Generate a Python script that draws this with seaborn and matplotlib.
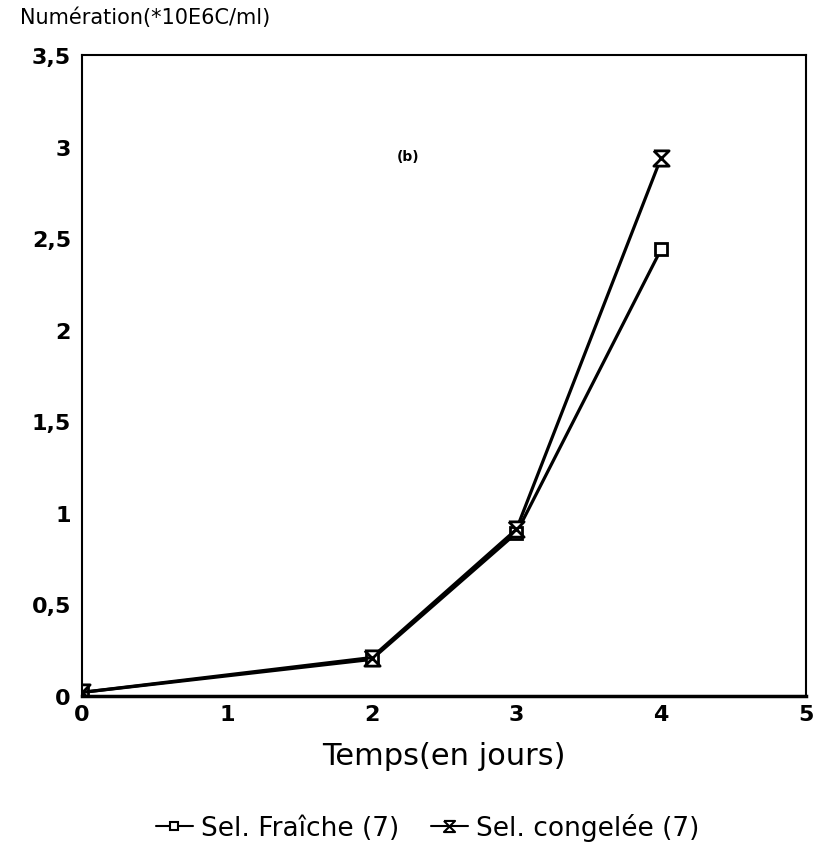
import numpy as np
import pandas as pd
import matplotlib
matplotlib.use('Agg')
import matplotlib.pyplot as plt
from matplotlib.lines import Line2D
import seaborn as sns

# values
days = [0, 2, 3, 4]
fraiche = [0.02, 0.20, 0.89, 2.44]
congelee = [0.02, 0.21, 0.91, 2.94]
series_names = ['Sel. Fraîche (7)', 'Sel. congelée (7)']
x_ticks = [0, 1, 2, 3, 4, 5]
y_ticks = [0, 0.5, 1, 1.5, 2, 2.5, 3, 3.5]
y_ticklabels = ['0', '0,5', '1', '1,5', '2', '2,5', '3', '3,5']

df = pd.DataFrame({
    'jour': days * 2,
    'num': fraiche + congelee,
    'serie': [series_names[0]] * len(days) + [series_names[1]] * len(days),
})

# hourglass marker (two triangles tip to tip)
hourglass = [(-1, 1), (1, 1), (-1, -1), (1, -1), (-1, 1)]

sns.set_style('white')
plt.rcParams['font.family'] = ['DejaVu Sans']
plt.rcParams['text.color'] = 'black'
plt.rcParams['axes.labelcolor'] = 'black'
plt.rcParams['xtick.color'] = 'black'
plt.rcParams['ytick.color'] = 'black'

fig = plt.figure(figsize=(8.22, 8.54), dpi=100)
ax = fig.add_axes([0.0998, 0.1838, 0.8807, 0.7506])

sns.lineplot(df[df.serie == series_names[0]], x='jour', y='num', ax=ax,
             color='black', lw=2.3, marker='s', markersize=8,
             markerfacecolor='white', markeredgecolor='black',
             markeredgewidth=2, legend=False)
sns.lineplot(df[df.serie == series_names[1]], x='jour', y='num', ax=ax,
             color='black', lw=2.3, marker=hourglass, markersize=11,
             markerfacecolor='white', markeredgecolor='black',
             markeredgewidth=2, legend=False)

ax.set_xlim(0, 5)
ax.set_ylim(0, 3.5)
ax.set_xticks(x_ticks)
ax.set_xticklabels([str(t) for t in x_ticks], fontsize=16, fontweight='bold')
ax.set_yticks(y_ticks)
ax.set_yticklabels(y_ticklabels, fontsize=16, fontweight='bold')
ax.tick_params(axis='x', direction='in', length=10, width=1.5, pad=6)
ax.tick_params(axis='y', direction='in', length=0, pad=8)
for s in ax.spines.values():
    s.set_color('black')
    s.set_linewidth(1.5)
ax.spines['bottom'].set_linewidth(2.5)

ax.set_xlabel('Temps(en jours)', fontsize=22, labelpad=12)
ax.set_ylabel('')
fig.text(0.024, 0.979, 'Numération(*10E6C/ml)', fontsize=15, ha='left', va='center')
ax.text(2.25, 2.95, '(b)', fontsize=10, fontweight='bold', ha='center', va='center')

handles = [
    Line2D([], [], color='black', lw=1.5, marker='s', markersize=6,
           markerfacecolor='white', markeredgewidth=1.5),
    Line2D([], [], color='black', lw=1.5, marker=hourglass, markersize=8,
           markerfacecolor='white', markeredgewidth=1.5),
]
fig.legend(handles, series_names, loc='center', bbox_to_anchor=(0.52, 0.03),
           ncol=2, frameon=False, fontsize=19, handlelength=1.4,
           handletextpad=0.3, columnspacing=1.2)

fig.savefig('out.png', dpi=100)
